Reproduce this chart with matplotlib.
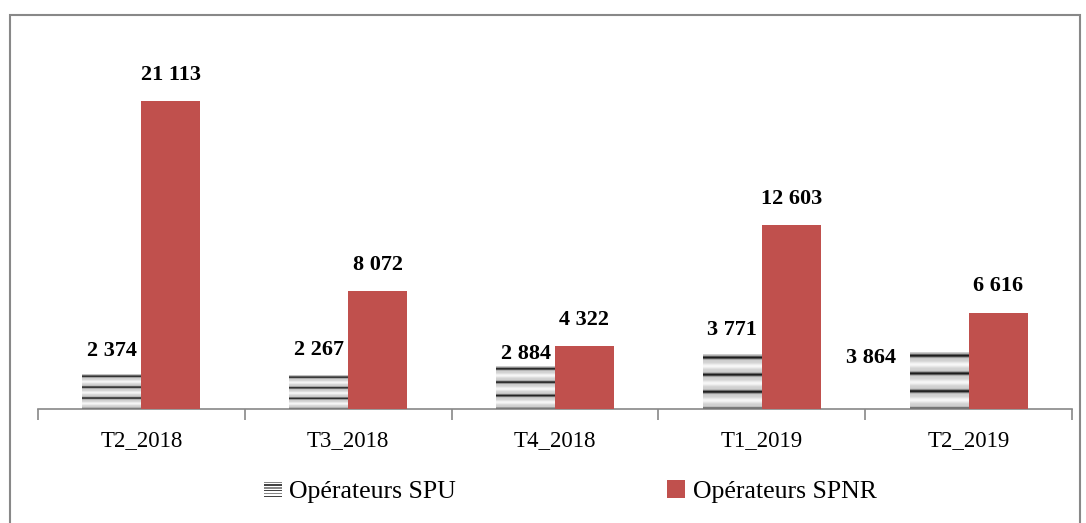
import numpy as np
import matplotlib
matplotlib.use("Agg")
import matplotlib.pyplot as plt
from matplotlib.patches import Rectangle, Patch
from matplotlib.legend_handler import HandlerBase

# données
trimestres = ["T2_2018", "T3_2018", "T4_2018", "T1_2019", "T2_2019"]
spu = [2374, 2267, 2884, 3771, 3864]
spnr = [21113, 8072, 4322, 12603, 6616]
# position des étiquettes SPU (décalage en points)
dx_spu = [0, 0, 0, 0, -49]
dy_spu = [17, 19, 9, 17, -4]

plt.rcParams['font.family'] = ['Liberation Serif', 'DejaVu Serif']

fig = plt.figure(figsize=(10.86, 5.23), dpi=100)
ax = fig.add_axes([38 / 1086, 114 / 523, 1034 / 1086, 0.669])

x = np.arange(len(trimestres))
w = 0.285
rouge = "#C0504D"


# motif rayé pour SPU
def rayures(hmax, periode, n=300):
    y = np.linspace(0, hmax, n)
    c = np.cos(2 * np.pi * y / periode)
    v = 0.82 - 0.75 * np.clip(c, 0, 1) ** 6 + 0.15 * np.clip(-c, 0, 1) ** 2
    return np.clip(v, 0.05, 0.97)


for i, val in enumerate(spu):
    left = x[i] - w
    v = rayures(val, val / 3.2)
    img = np.tile(v[::-1][:, None], (1, 2))
    ax.imshow(img, extent=[left, left + w, 0, val], aspect='auto', cmap='gray',
              vmin=0, vmax=1, interpolation='bilinear', zorder=2)

ax.bar(x + w / 2, spnr, w, color=rouge, zorder=3)

for i, val in enumerate(spu):
    ax.annotate(f"{val:,}".replace(",", " "), (x[i] - w / 2, val), xytext=(dx_spu[i], dy_spu[i]),
                textcoords="offset points", ha='center', va='center',
                fontsize=16, fontweight='bold')
for i, val in enumerate(spnr):
    ax.annotate(f"{val:,}".replace(",", " "), (x[i] + w / 2, val), xytext=(0, 19),
                textcoords="offset points", ha='center', va='center',
                fontsize=16, fontweight='bold')

ax.set_xlim(-0.5, len(trimestres) - 0.5)
ax.set_ylim(0, 24000)
ax.set_yticks([])
for s in ["top", "right", "left"]:
    ax.spines[s].set_visible(False)
ax.spines["bottom"].set_color("#888888")
ax.spines["bottom"].set_linewidth(1.2)
ax.set_xticks(x)
ax.set_xticklabels(trimestres, fontsize=16.5)
ax.tick_params(axis='x', which='major', length=0, pad=15)
ax.set_xticks(np.arange(-0.5, len(trimestres)), minor=True)
ax.tick_params(axis='x', which='minor', length=8, color="#888888", width=1.2)


class RayureHandler(HandlerBase):
    def create_artists(self, legend, orig_handle, xd, yd, width, height, fontsize, trans):
        arts = []
        for k in range(6):
            r = Rectangle((xd, yd + height * (0.05 + k * 0.16)), width, height * 0.07,
                          facecolor="#444444" if k % 2 == 0 else "#888888", transform=trans)
            arts.append(r)
        return arts


h_spu = Patch(label="Opérateurs SPU")
h_spnr = Patch(facecolor=rouge, label="Opérateurs SPNR")
fig.legend([h_spu, h_spnr], ["Opérateurs SPU", "Opérateurs SPNR"],
           handler_map={h_spu: RayureHandler()}, loc='center', bbox_to_anchor=(0.525, 0.06),
           ncol=2, frameon=False, fontsize=18.5, columnspacing=8.2, handlelength=0.7,
           handleheight=0.7, handletextpad=0.3)

# cadre
fig.add_artist(Rectangle((10 / 1086, -0.05), 1070 / 1086, (508 / 523) + 0.05, transform=fig.transFigure,
                         fill=False, edgecolor="#888888", linewidth=1.5))

fig.savefig("out.png", dpi=100)
